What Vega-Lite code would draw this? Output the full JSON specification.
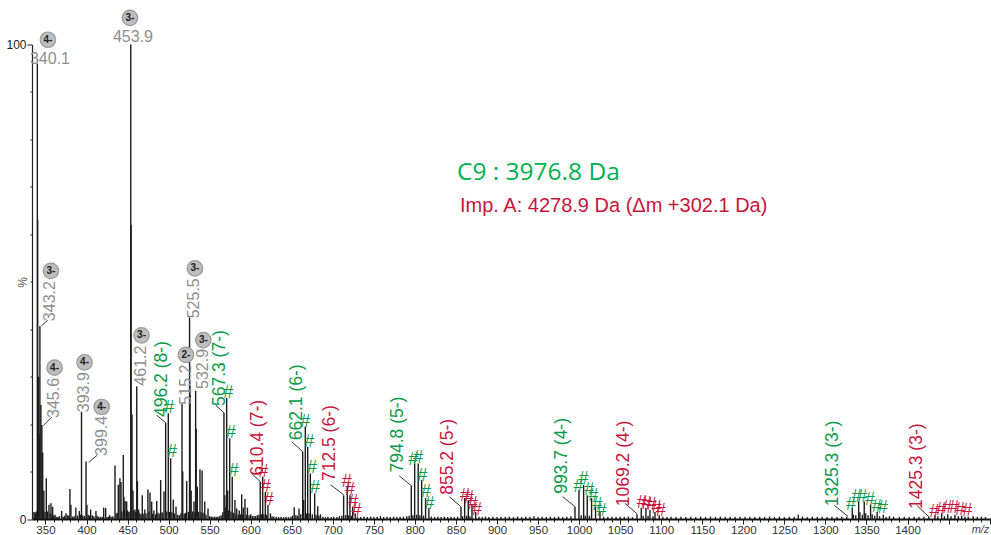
{"$schema":"https://vega.github.io/schema/vega-lite/v6.json","width":959,"height":474.5,"autosize":{"type":"none"},"padding":{"left":32,"top":44.5,"right":0,"bottom":16},"background":"white","config":{"view":{"stroke":null}},
"datasets":{
"peaks":[{"mz":340.1,"pct":96},{"mz":340.5,"pct":63},{"mz":341.5,"pct":30},{"mz":342.3,"pct":18},{"mz":343.2,"pct":40.7},{"mz":344.4,"pct":24},{"mz":345.6,"pct":19.8},{"mz":346.6,"pct":14},{"mz":348,"pct":6},{"mz":351,"pct":8.6},{"mz":354.3,"pct":3},{"mz":356.7,"pct":3.3},{"mz":358.8,"pct":2.6},{"mz":361.6,"pct":0.9},{"mz":336,"pct":1.5},{"mz":337.2,"pct":1.4},{"mz":369.7,"pct":1.7},{"mz":375,"pct":1.2},{"mz":379.8,"pct":6.3},{"mz":381,"pct":3},{"mz":387,"pct":2.4},{"mz":391.2,"pct":1.7},{"mz":393.9,"pct":22.6},{"mz":399.4,"pct":12.1},{"mz":400.5,"pct":3},{"mz":405,"pct":2},{"mz":411.5,"pct":1.7},{"mz":420.9,"pct":2.4},{"mz":423.3,"pct":2.3},{"mz":428.2,"pct":0.8},{"mz":434.7,"pct":11.3},{"mz":438.7,"pct":7.2},{"mz":440.7,"pct":8.6},{"mz":442,"pct":7.8},{"mz":444.8,"pct":13.5},{"mz":445.6,"pct":4.7},{"mz":447,"pct":3.8},{"mz":448.9,"pct":3.7},{"mz":453.9,"pct":100},{"mz":454.3,"pct":62},{"mz":455.4,"pct":22},{"mz":456.6,"pct":6},{"mz":459,"pct":2},{"mz":461.2,"pct":28},{"mz":462,"pct":8},{"mz":463.5,"pct":2},{"mz":467.9,"pct":5},{"mz":471,"pct":2},{"mz":474.8,"pct":6.2},{"mz":477.3,"pct":5.6},{"mz":479.4,"pct":3.7},{"mz":482,"pct":1.8},{"mz":485.5,"pct":3.8},{"mz":490.3,"pct":8.2},{"mz":494.4,"pct":5.8},{"mz":496.4,"pct":20.2},{"mz":499.6,"pct":22.3},{"mz":502.5,"pct":12.8},{"mz":505.7,"pct":4.1},{"mz":509,"pct":2.6},{"mz":516.3,"pct":24.3},{"mz":517.2,"pct":10},{"mz":522,"pct":8},{"mz":525.5,"pct":42.5},{"mz":526.2,"pct":28},{"mz":527.5,"pct":6},{"mz":530.9,"pct":3.7},{"mz":532.9,"pct":27},{"mz":533.6,"pct":19},{"mz":535,"pct":6.8},{"mz":538.2,"pct":10.5},{"mz":540.8,"pct":10.2},{"mz":544,"pct":3.7},{"mz":548,"pct":2.2},{"mz":567.4,"pct":22.4},{"mz":568.5,"pct":5},{"mz":570.7,"pct":25.5},{"mz":572,"pct":6},{"mz":574.4,"pct":17},{"mz":577.5,"pct":8.9},{"mz":580.8,"pct":4},{"mz":583,"pct":2.2},{"mz":586,"pct":1.8},{"mz":589,"pct":5.2},{"mz":591,"pct":2.4},{"mz":593,"pct":4.2},{"mz":596,"pct":2.4},{"mz":600,"pct":1},{"mz":611.6,"pct":7.9},{"mz":614.6,"pct":8.9},{"mz":617.8,"pct":5.7},{"mz":621,"pct":3},{"mz":624,"pct":1.2},{"mz":653,"pct":2.5},{"mz":658.8,"pct":2.2},{"mz":663.3,"pct":14.2},{"mz":664.5,"pct":4},{"mz":666.5,"pct":19.5},{"mz":669.4,"pct":15.2},{"mz":672.6,"pct":9.6},{"mz":677.9,"pct":5.4},{"mz":681.6,"pct":2.7},{"mz":685,"pct":1},{"mz":713.2,"pct":5},{"mz":717.6,"pct":6.8},{"mz":720.9,"pct":5},{"mz":724.2,"pct":2.6},{"mz":727.3,"pct":1.2},{"mz":795.6,"pct":7},{"mz":799.7,"pct":11.7},{"mz":804,"pct":11.7},{"mz":808.2,"pct":8.2},{"mz":813,"pct":4.4},{"mz":817,"pct":2.3},{"mz":856.1,"pct":2.6},{"mz":860.6,"pct":4.4},{"mz":865,"pct":4},{"mz":869.5,"pct":3},{"mz":874,"pct":1.5},{"mz":995,"pct":2.6},{"mz":999.8,"pct":6.1},{"mz":1005.5,"pct":7.2},{"mz":1009.9,"pct":5},{"mz":1015.2,"pct":4.4},{"mz":1020,"pct":2.6},{"mz":1025.4,"pct":1.5},{"mz":1070.5,"pct":1},{"mz":1075.7,"pct":2.3},{"mz":1081.4,"pct":2.3},{"mz":1086.3,"pct":1.9},{"mz":1092.4,"pct":1.5},{"mz":1097.6,"pct":0.8},{"mz":1267,"pct":0.9},{"mz":1332.7,"pct":2.3},{"mz":1334,"pct":0.9},{"mz":1340.5,"pct":3.7},{"mz":1342,"pct":1.4},{"mz":1347.3,"pct":3.7},{"mz":1349,"pct":1.2},{"mz":1355,"pct":3},{"mz":1357,"pct":1},{"mz":1363,"pct":1.5},{"mz":1370.5,"pct":0.9},{"mz":1378,"pct":0.6},{"mz":1433.4,"pct":0.8},{"mz":1441.6,"pct":1.2},{"mz":1449,"pct":1},{"mz":1457.8,"pct":0.9},{"mz":1466,"pct":0.7},{"mz":1474,"pct":0.5},
{"mz":338,"pct":1.2},{"mz":339,"pct":1.6},{"mz":347.5,"pct":1.8},{"mz":349.5,"pct":1.5},{"mz":352.5,"pct":1.6},{"mz":355.5,"pct":1.2},{"mz":358,"pct":1},{"mz":360,"pct":0.7},{"mz":363,"pct":0.5},{"mz":365,"pct":0.4},{"mz":367,"pct":0.6},{"mz":371.5,"pct":0.5},{"mz":373.5,"pct":0.7},{"mz":377,"pct":0.8},{"mz":378.5,"pct":0.7},{"mz":383,"pct":0.5},{"mz":385,"pct":0.6},{"mz":389,"pct":0.7},{"mz":392.5,"pct":0.9},{"mz":395.5,"pct":0.8},{"mz":397.5,"pct":0.6},{"mz":402,"pct":0.9},{"mz":403.5,"pct":0.7},{"mz":407,"pct":0.8},{"mz":409,"pct":0.6},{"mz":413,"pct":0.7},{"mz":415,"pct":0.5},{"mz":417,"pct":0.4},{"mz":419,"pct":0.5},{"mz":425,"pct":0.4},{"mz":427,"pct":0.5},{"mz":430,"pct":0.5},{"mz":432,"pct":0.6},{"mz":436,"pct":1.1},{"mz":437.5,"pct":1.3},{"mz":443,"pct":1.6},{"mz":446,"pct":2},{"mz":450,"pct":1.8},{"mz":451.5,"pct":1.5},{"mz":453,"pct":1.6},{"mz":457.5,"pct":1.8},{"mz":460,"pct":1.5},{"mz":465,"pct":1.2},{"mz":466.5,"pct":1},{"mz":469,"pct":1.1},{"mz":472.5,"pct":1.2},{"mz":476,"pct":1.6},{"mz":480.5,"pct":1.1},{"mz":484,"pct":1},{"mz":487,"pct":1.3},{"mz":488.5,"pct":1.1},{"mz":492,"pct":1.4},{"mz":493,"pct":1.2},{"mz":497.8,"pct":1.6},{"mz":501,"pct":1.5},{"mz":504,"pct":1.4},{"mz":507,"pct":1.2},{"mz":511,"pct":0.9},{"mz":513,"pct":0.8},{"mz":515,"pct":1.2},{"mz":519,"pct":1.1},{"mz":520.5,"pct":1.3},{"mz":524,"pct":1.5},{"mz":529,"pct":1.6},{"mz":531.5,"pct":1.4},{"mz":536.5,"pct":1.5},{"mz":539.5,"pct":1.4},{"mz":542,"pct":1.3},{"mz":545.5,"pct":0.9},{"mz":550,"pct":0.6},{"mz":552,"pct":0.5},{"mz":554,"pct":0.4},{"mz":556,"pct":0.5},{"mz":558,"pct":0.4},{"mz":560,"pct":0.5},{"mz":562,"pct":0.6},{"mz":564,"pct":0.8},{"mz":566,"pct":1.4},{"mz":569.5,"pct":2.4},{"mz":573,"pct":1.8},{"mz":576,"pct":1.6},{"mz":579,"pct":1.3},{"mz":582,"pct":1},{"mz":585,"pct":0.9},{"mz":587.5,"pct":1},{"mz":590,"pct":0.9},{"mz":594.5,"pct":0.9},{"mz":598,"pct":0.8},{"mz":602,"pct":0.6},{"mz":604,"pct":0.7},{"mz":606,"pct":0.6},{"mz":608,"pct":0.8},{"mz":610,"pct":0.9},{"mz":613,"pct":1},{"mz":616,"pct":1},{"mz":619.5,"pct":0.9},{"mz":626,"pct":0.6},{"mz":628,"pct":0.5},{"mz":631,"pct":0.5},{"mz":634,"pct":0.4},{"mz":637,"pct":0.5},{"mz":640,"pct":0.4},{"mz":643,"pct":0.5},{"mz":646,"pct":0.4},{"mz":649,"pct":0.5},{"mz":651,"pct":0.7},{"mz":655,"pct":0.8},{"mz":657,"pct":0.7},{"mz":661,"pct":1},{"mz":668,"pct":1.2},{"mz":671,"pct":1.2},{"mz":675,"pct":1},{"mz":679.5,"pct":0.9},{"mz":683,"pct":0.7},{"mz":688,"pct":0.5},{"mz":691,"pct":0.4},{"mz":694,"pct":0.5},{"mz":698,"pct":0.4},{"mz":701,"pct":0.5},{"mz":705,"pct":0.4},{"mz":708,"pct":0.6},{"mz":711,"pct":0.7},{"mz":715.5,"pct":0.8},{"mz":719,"pct":0.8},{"mz":722.5,"pct":0.7},{"mz":730,"pct":0.5},{"mz":734,"pct":0.4},{"mz":738,"pct":0.5},{"mz":742,"pct":0.4},{"mz":746,"pct":0.5},{"mz":750,"pct":0.4},{"mz":754,"pct":0.5},{"mz":758,"pct":0.6},{"mz":762,"pct":0.4},{"mz":766,"pct":0.5},{"mz":770,"pct":0.4},{"mz":774,"pct":0.5},{"mz":778,"pct":0.4},{"mz":782,"pct":0.5},{"mz":786,"pct":0.5},{"mz":790,"pct":0.6},{"mz":793,"pct":0.7},{"mz":797.5,"pct":0.8},{"mz":802,"pct":0.9},{"mz":806,"pct":0.8},{"mz":810.5,"pct":0.7},{"mz":820,"pct":0.5},{"mz":824,"pct":0.4},{"mz":828,"pct":0.5},{"mz":832,"pct":0.4},{"mz":836,"pct":0.5},{"mz":840,"pct":0.4},{"mz":844,"pct":0.5},{"mz":848,"pct":0.4},{"mz":852,"pct":0.5},{"mz":858,"pct":0.6},{"mz":863,"pct":0.7},{"mz":867,"pct":0.6},{"mz":878,"pct":0.5},{"mz":882,"pct":0.4},{"mz":886,"pct":0.5},{"mz":890,"pct":0.4},{"mz":895,"pct":0.5},{"mz":900,"pct":0.4},{"mz":905,"pct":0.5},{"mz":910,"pct":0.4},{"mz":915,"pct":0.5},{"mz":920,"pct":0.4},{"mz":925,"pct":0.5},{"mz":930,"pct":0.4},{"mz":935,"pct":0.5},{"mz":940,"pct":0.4},{"mz":945,"pct":0.6},{"mz":950,"pct":0.4},{"mz":955,"pct":0.5},{"mz":960,"pct":0.4},{"mz":965,"pct":0.5},{"mz":970,"pct":0.4},{"mz":975,"pct":0.5},{"mz":980,"pct":0.4},{"mz":985,"pct":0.5},{"mz":990,"pct":0.6},{"mz":1002.5,"pct":0.8},{"mz":1007.5,"pct":0.7},{"mz":1012.5,"pct":0.7},{"mz":1030,"pct":0.5},{"mz":1035,"pct":0.4},{"mz":1040,"pct":0.5},{"mz":1045,"pct":0.4},{"mz":1050,"pct":0.5},{"mz":1055,"pct":0.4},{"mz":1060,"pct":0.5},{"mz":1065,"pct":0.4},{"mz":1078,"pct":0.7},{"mz":1084,"pct":0.7},{"mz":1090,"pct":0.6},{"mz":1102,"pct":0.5},{"mz":1107,"pct":0.4},{"mz":1112,"pct":0.5},{"mz":1118,"pct":0.4},{"mz":1124,"pct":0.5},{"mz":1130,"pct":0.4},{"mz":1136,"pct":0.5},{"mz":1142,"pct":0.4},{"mz":1148,"pct":0.5},{"mz":1154,"pct":0.4},{"mz":1160,"pct":0.5},{"mz":1166,"pct":0.4},{"mz":1172,"pct":0.5},{"mz":1178,"pct":0.4},{"mz":1184,"pct":0.5},{"mz":1190,"pct":0.4},{"mz":1196,"pct":0.5},{"mz":1202,"pct":0.4},{"mz":1208,"pct":0.5},{"mz":1214,"pct":0.4},{"mz":1220,"pct":0.5},{"mz":1226,"pct":0.4},{"mz":1232,"pct":0.5},{"mz":1238,"pct":0.4},{"mz":1244,"pct":0.5},{"mz":1250,"pct":0.4},{"mz":1256,"pct":0.5},{"mz":1262,"pct":0.4},{"mz":1272,"pct":0.5},{"mz":1278,"pct":0.4},{"mz":1284,"pct":0.5},{"mz":1290,"pct":0.4},{"mz":1296,"pct":0.5},{"mz":1302,"pct":0.4},{"mz":1308,"pct":0.5},{"mz":1314,"pct":0.4},{"mz":1320,"pct":0.5},{"mz":1326,"pct":0.5},{"mz":1337,"pct":0.8},{"mz":1345,"pct":0.9},{"mz":1352,"pct":0.8},{"mz":1360,"pct":0.7},{"mz":1366,"pct":0.6},{"mz":1374,"pct":0.5},{"mz":1383,"pct":0.5},{"mz":1390,"pct":0.4},{"mz":1396,"pct":0.5},{"mz":1402,"pct":0.4},{"mz":1408,"pct":0.5},{"mz":1414,"pct":0.4},{"mz":1420,"pct":0.5},{"mz":1426,"pct":0.5},{"mz":1437,"pct":0.6},{"mz":1445,"pct":0.6},{"mz":1453,"pct":0.6},{"mz":1462,"pct":0.6},{"mz":1470,"pct":0.5},{"mz":1480,"pct":0.6},{"mz":1485,"pct":0.4},{"mz":1490,"pct":0.5},{"mz":1495,"pct":0.4}],
"leaders":[{"mz":352.8,"pct":41.9,"mz2":345.2,"pct2":40.7},{"mz":357.9,"pct":21.5,"mz2":347.3,"pct2":19.7},{"mz":412.7,"pct":13.4,"mz2":402.6,"pct2":11.9},{"mz":485.4,"pct":21.9,"mz2":497.1,"pct2":20.2},{"mz":557.3,"pct":24,"mz2":567.4,"pct2":22.4},{"mz":601.1,"pct":9.6,"mz2":611.6,"pct2":7.9},{"mz":649.9,"pct":16.3,"mz2":663.3,"pct2":14.2},{"mz":697.4,"pct":7.2,"mz2":713.2,"pct2":5.1},{"mz":780.9,"pct":9.1,"mz2":795.6,"pct2":7},{"mz":841.8,"pct":4.7,"mz2":856.1,"pct2":2.6},{"mz":980,"pct":4.7,"mz2":995,"pct2":2.6},{"mz":1055.8,"pct":3.3,"mz2":1070.5,"pct2":1.1},{"mz":1310.7,"pct":2.9,"mz2":1327.8,"pct2":0.5},{"mz":1411.1,"pct":2.9,"mz2":1426.5,"pct2":0.4}]
},
"encoding":{
"x":{"field":"mz","type":"quantitative","scale":{"domain":[333.6,1501.7],"nice":false,"zero":false},"axis":{"values":[340,350,360,370,380,390,400,410,420,430,440,450,460,470,480,490,500,510,520,530,540,550,560,570,580,590,600,610,620,630,640,650,660,670,680,690,700,710,720,730,740,750,760,770,780,790,800,810,820,830,840,850,860,870,880,890,900,910,920,930,940,950,960,970,980,990,1000,1010,1020,1030,1040,1050,1060,1070,1080,1090,1100,1110,1120,1130,1140,1150,1160,1170,1180,1190,1200,1210,1220,1230,1240,1250,1260,1270,1280,1290,1300,1310,1320,1330,1340,1350,1360,1370,1380,1390,1400,1410,1420,1430,1440,1450,1460,1470,1480,1490,1500],"labelExpr":"datum.value % 50 == 0 && datum.value <= 1400 ? datum.value : ''","labelOverlap":false,"labelFlush":false,"labelBound":false,"labelFont":"Liberation Sans","labelFontSize":11.5,"labelColor":"#333333","labelPadding":0,"tickColor":"#222222","tickSize":{"condition":{"test":"datum.value % 50 == 0","value":5},"value":3},"tickWidth":1,"domainColor":"#111111","domainWidth":2,"grid":false,"title":"m/z","titleFont":"Liberation Sans","titleFontStyle":"italic","titleFontWeight":"normal","titleFontSize":11,"titleColor":"#444444","titleX":948,"titleY":10,"titleAlign":"center","titleBaseline":"middle"}},
"y":{"field":"pct","type":"quantitative","scale":{"domain":[0,100],"nice":false,"zero":false},"axis":{"values":[0,10,20,30,40,50,60,70,80,90,100],"labelExpr":"datum.value == 0 || datum.value == 100 ? datum.value : ''","labelOverlap":false,"labelFont":"Liberation Sans","labelFontSize":12,"labelColor":"#222222","labelPadding":1,"tickColor":"#222222","tickSize":{"condition":{"test":"datum.value == 0 || datum.value == 100","value":5},"value":2},"tickWidth":1,"domainColor":"#222222","domainWidth":1.2,"grid":false,"title":"%","titleFont":"Liberation Sans","titleFontWeight":"normal","titleFontSize":12,"titleColor":"#555555","titleX":-3,"titleY":237.5,"titleAlign":"center"}}
},
"layer":[
{"data":{"name":"peaks"},"mark":{"type":"rule","color":"#1c1c1c","strokeWidth":1.4},"encoding":{"y2":{"datum":0}}},
{"data":{"name":"leaders"},"mark":{"type":"rule","color":"#333333","strokeWidth":1},"encoding":{"x2":{"field":"mz2"},"y2":{"field":"pct2"}}},
{"data":{"values":[{"mz":355.5,"pct":96.9,"label":"340.1"},{"mz":456.6,"pct":101.6,"label":"453.9"}]},"mark":{"type":"text","font":"Liberation Sans","fontSize":16,"color":"#8f8f8f","align":"center","baseline":"middle"},"encoding":{"text":{"field":"label"}}},
{"data":{"values":[{"mz":356.1,"pct":41.7,"label":"343.2"},{"mz":360.4,"pct":21.3,"label":"345.6"},{"mz":396.4,"pct":22.5,"label":"393.9"},{"mz":418.5,"pct":13.3,"label":"399.4"},{"mz":466.3,"pct":28.1,"label":"461.2"},{"mz":521.1,"pct":24.1,"label":"515.2"},{"mz":530.7,"pct":42.3,"label":"525.5"},{"mz":542.3,"pct":27.4,"label":"532.9"}]},"mark":{"type":"text","font":"Liberation Sans","fontSize":16,"color":"#8f8f8f","angle":270,"align":"left","baseline":"middle"},"encoding":{"text":{"field":"label"}}},
{"data":{"values":[{"mz":491.9,"pct":21.5,"label":"496.2 (8-)","form":"C9"},{"mz":562.5,"pct":23.8,"label":"567.3 (7-)","form":"C9"},{"mz":656.3,"pct":16.6,"label":"662.1 (6-)","form":"C9"},{"mz":779.3,"pct":9.8,"label":"794.8 (5-)","form":"C9"},{"mz":978.7,"pct":5.3,"label":"993.7 (4-)","form":"C9"},{"mz":1309.5,"pct":2.7,"label":"1325.3 (3-)","form":"C9"}]},"mark":{"type":"text","font":"Liberation Sans","fontSize":17.5,"angle":270,"align":"left","baseline":"middle","color":"#0a9a4a"},"encoding":{"text":{"field":"label"}}},
{"data":{"values":[{"mz":609.3,"pct":9.1,"label":"610.4 (7-)","form":"Imp. A"},{"mz":696.5,"pct":8,"label":"712.5 (6-)","form":"Imp. A"},{"mz":840.2,"pct":5.1,"label":"855.2 (5-)","form":"Imp. A"},{"mz":1054.6,"pct":2.7,"label":"1069.2 (4-)","form":"Imp. A"},{"mz":1411.1,"pct":2.1,"label":"1425.3 (3-)","form":"Imp. A"}]},"mark":{"type":"text","font":"Liberation Sans","fontSize":17.5,"angle":270,"align":"left","baseline":"middle","color":"#c9143c"},"encoding":{"text":{"field":"label"}}},
{"data":{"values":[{"mz":353,"pct":101,"z":"4-"},{"mz":452.9,"pct":105.6,"z":"3-"},{"mz":356.7,"pct":52.3,"z":"3-"},{"mz":361.1,"pct":31.9,"z":"4-"},{"mz":397.6,"pct":33,"z":"4-"},{"mz":418.5,"pct":23.6,"z":"4-"},{"mz":467,"pct":38.7,"z":"3-"},{"mz":521.1,"pct":34.6,"z":"2-"},{"mz":532.1,"pct":52.8,"z":"3-"},{"mz":542.3,"pct":37.7,"z":"3-"}]},"layer":[{"mark":{"type":"point","filled":true,"shape":"circle","size":240,"fill":"#bdbdbd","stroke":"#9a9a9a","strokeWidth":1.2,"opacity":1}},{"mark":{"type":"text","font":"Liberation Sans","fontSize":10,"fontWeight":"bold","color":"#222222","align":"center","baseline":"middle"},"encoding":{"text":{"field":"z"}}}]},
{"data":{"values":[{"mz":500.8,"pct":23.3},{"mz":504.1,"pct":14.2},{"mz":572.7,"pct":26.5},{"mz":575.6,"pct":18.1},{"mz":579.2,"pct":10.1},{"mz":666.4,"pct":20.4},{"mz":671.3,"pct":16.3},{"mz":674.6,"pct":10.8},{"mz":678.3,"pct":6.5},{"mz":798,"pct":12.4},{"mz":804,"pct":12.8},{"mz":808.9,"pct":9.1},{"mz":813.4,"pct":5.6},{"mz":817.9,"pct":3.2},{"mz":999.4,"pct":6.8},{"mz":1005.5,"pct":8.4},{"mz":1012.3,"pct":6.1},{"mz":1017.2,"pct":4.9},{"mz":1022.1,"pct":2.9},{"mz":1027.4,"pct":1.7},{"mz":1331.1,"pct":2.9},{"mz":1338,"pct":4.6},{"mz":1344.8,"pct":4.7},{"mz":1354.2,"pct":4},{"mz":1362.4,"pct":2.6},{"mz":1369.7,"pct":2.3}]},"mark":{"type":"text","text":"#","font":"Liberation Sans","fontSize":18,"align":"center","baseline":"middle","color":"#0a9a4a"}},
{"data":{"values":[{"mz":615.3,"pct":10},{"mz":618.2,"pct":6.7},{"mz":621.9,"pct":4},{"mz":716.9,"pct":7.9},{"mz":720.9,"pct":6.1},{"mz":724.9,"pct":3.5},{"mz":729,"pct":1.7},{"mz":860.9,"pct":4.8},{"mz":865.8,"pct":4.4},{"mz":870.3,"pct":3.1},{"mz":875.6,"pct":1.9},{"mz":1076.2,"pct":3.3},{"mz":1082.2,"pct":3.1},{"mz":1088.3,"pct":2.9},{"mz":1094.4,"pct":2.4},{"mz":1099.3,"pct":1.7},{"mz":1432.5,"pct":1.5},{"mz":1440.7,"pct":2},{"mz":1448.3,"pct":2.3},{"mz":1456.5,"pct":2.3},{"mz":1463.8,"pct":1.9},{"mz":1472.7,"pct":1.7}]},"mark":{"type":"text","text":"#","font":"Liberation Sans","fontSize":18,"align":"center","baseline":"middle","color":"#c9143c"}},
{"data":{"values":[{"mz":851.2,"pct":72.9,"label":"C9 : 3976.8 Da"}]},"mark":{"type":"text","font":"Open Sans","fontSize":24.5,"color":"#00b050","align":"left","baseline":"middle"},"encoding":{"text":{"field":"label"}}},
{"data":{"values":[{"mz":854.9,"pct":65.9,"label":"Imp. A: 4278.9 Da (Δm +302.1 Da)"}]},"mark":{"type":"text","font":"Liberation Sans","fontSize":20,"color":"#c9143c","align":"left","baseline":"middle"},"encoding":{"text":{"field":"label"}}}
],"resolve":{"scale":{"x":"shared","y":"shared"}}}
